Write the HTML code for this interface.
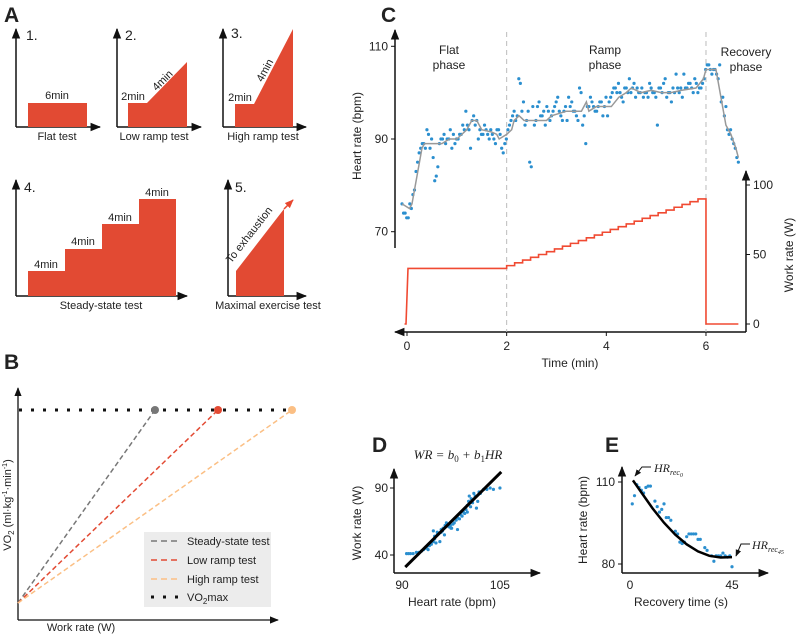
<!DOCTYPE html>
<html><head><meta charset="utf-8"><style>
body{margin:0;background:#fff;}
svg{display:block;font-family:"Liberation Sans",Arial,sans-serif;}
</style></head><body>
<svg id="fig" width="797" height="634" viewBox="0 0 797 634">
<defs>
<marker id="ar" viewBox="0 0 10 10" refX="9" refY="5" markerWidth="7" markerHeight="7" orient="auto-start-reverse"><path d="M0,1 L10,5 L0,9 z" fill="#111"/></marker>
<marker id="arr" viewBox="0 0 10 10" refX="9" refY="5" markerWidth="6" markerHeight="6" orient="auto"><path d="M0,1 L10,5 L0,9 z" fill="#e8472f"/></marker>
</defs>

<!-- Panel A -->
<g font-size="11" fill="#222">
<text x="4" y="22" font-size="21" font-weight="bold">A</text>
<g>
<line x1="16" y1="127" x2="16" y2="29" stroke="#111" stroke-width="1.5" marker-end="url(#ar)"/>
<line x1="16" y1="127" x2="100" y2="127" stroke="#111" stroke-width="1.5" marker-end="url(#ar)"/>
<rect x="28" y="103" width="59" height="24" fill="#e24a33"/>
<text x="26" y="40" font-size="14">1.</text>
<text x="57" y="99" text-anchor="middle">6min</text>
<text x="57" y="140" text-anchor="middle">Flat test</text></g>
<g>
<line x1="117" y1="127" x2="117" y2="29" stroke="#111" stroke-width="1.5" marker-end="url(#ar)"/>
<line x1="117" y1="127" x2="201" y2="127" stroke="#111" stroke-width="1.5" marker-end="url(#ar)"/>
<polygon points="128,127 128,103 147,103 187,62 187,127" fill="#e24a33"/>
<text x="125" y="40" font-size="14">2.</text>
<text x="133" y="100" text-anchor="middle">2min</text>
<text x="0" y="0" text-anchor="middle" transform="translate(165,83) rotate(-45)">4min</text>
<text x="154" y="140" text-anchor="middle">Low ramp test</text></g>
<g>
<line x1="223" y1="127" x2="223" y2="29" stroke="#111" stroke-width="1.5" marker-end="url(#ar)"/>
<line x1="223" y1="127" x2="306" y2="127" stroke="#111" stroke-width="1.5" marker-end="url(#ar)"/>
<polygon points="235,127 235,104 254,104 293,29 293,127" fill="#e24a33"/>
<text x="231" y="38" font-size="14">3.</text>
<text x="240" y="101" text-anchor="middle">2min</text>
<text x="0" y="0" text-anchor="middle" transform="translate(268,72) rotate(-62)">4min</text>
<text x="263" y="140" text-anchor="middle">High ramp test</text></g>
<g>
<line x1="16" y1="296" x2="16" y2="180" stroke="#111" stroke-width="1.5" marker-end="url(#ar)"/>
<line x1="16" y1="296" x2="187" y2="296" stroke="#111" stroke-width="1.5" marker-end="url(#ar)"/>
<polygon points="28,296 28,271 65,271 65,249 102,249 102,224 139,224 139,199 176,199 176,296" fill="#e24a33"/>
<text x="24" y="192" font-size="14">4.</text>
<text x="46" y="268" text-anchor="middle">4min</text>
<text x="83" y="245" text-anchor="middle">4min</text>
<text x="120" y="221" text-anchor="middle">4min</text>
<text x="157" y="196" text-anchor="middle">4min</text>
<text x="101" y="309" text-anchor="middle">Steady-state test</text></g>
<g>
<line x1="228" y1="296" x2="228" y2="180" stroke="#111" stroke-width="1.5" marker-end="url(#ar)"/>
<line x1="228" y1="296" x2="306" y2="296" stroke="#111" stroke-width="1.5" marker-end="url(#ar)"/>
<polygon points="236,296 236,271 284,209 284,296" fill="#e24a33"/>
<line x1="284" y1="209" x2="293" y2="200" stroke="#e8472f" stroke-width="1.5" marker-end="url(#arr)"/>
<text x="235" y="192" font-size="14">5.</text>
<text x="0" y="0" text-anchor="middle" transform="translate(252,237) rotate(-52)">To exhaustion</text>
<text x="268" y="309" text-anchor="middle">Maximal exercise test</text></g>
</g>

<!-- Panel B -->
<g font-size="11" fill="#222">
<text x="4" y="369" font-size="21" font-weight="bold">B</text>
<line x1="18" y1="620" x2="18" y2="388" stroke="#111" stroke-width="1.3" marker-end="url(#ar)"/>
<line x1="18" y1="620" x2="278" y2="620" stroke="#111" stroke-width="1.3" marker-end="url(#ar)"/>
<line x1="19" y1="410" x2="292" y2="410" stroke="#111" stroke-width="3" stroke-dasharray="3,9"/>
<line x1="18" y1="603" x2="155" y2="410" stroke="#777" stroke-width="1.5" stroke-dasharray="5,3"/>
<line x1="18" y1="603" x2="218" y2="410" stroke="#e24a33" stroke-width="1.5" stroke-dasharray="5,3"/>
<line x1="18" y1="603" x2="292" y2="410" stroke="#fbbf84" stroke-width="1.5" stroke-dasharray="5,3"/>
<circle cx="155" cy="410" r="4" fill="#777"/><circle cx="218" cy="410" r="4" fill="#e24a33"/><circle cx="292" cy="410" r="4" fill="#fbbf84"/>
<g>
<rect x="144" y="532" width="127" height="75" fill="#ececec"/>
<line x1="151" y1="541" x2="180" y2="541" stroke="#777" stroke-width="1.5" stroke-dasharray="6,4"/><text x="187" y="545">Steady-state test</text>
<line x1="151" y1="560" x2="180" y2="560" stroke="#e24a33" stroke-width="1.5" stroke-dasharray="6,4"/><text x="187" y="564">Low ramp test</text>
<line x1="151" y1="579" x2="180" y2="579" stroke="#fbbf84" stroke-width="1.5" stroke-dasharray="6,4"/><text x="187" y="583">High ramp test</text>
<line x1="151" y1="597" x2="180" y2="597" stroke="#111" stroke-width="3" stroke-dasharray="3,9"/><text x="187" y="601">VO<tspan font-size="8" dy="3">2</tspan><tspan dy="-3">max</tspan></text>
</g>
<text x="0" y="0" text-anchor="middle" transform="translate(11,505) rotate(-90)">VO<tspan font-size="8" dy="3">2</tspan><tspan dy="-3"> (ml·kg</tspan><tspan font-size="7" dy="-4">-1</tspan><tspan dy="4">·min</tspan><tspan font-size="7" dy="-4">-1</tspan><tspan dy="4">)</tspan></text>
<text x="81" y="631" text-anchor="middle">Work rate (W)</text>
</g>

<!-- Panel C -->
<g id="pc" font-size="12" fill="#222">
<text x="381" y="22" font-size="21" font-weight="bold">C</text>
</g>
<!-- Panel D -->
<g id="pd" font-size="12" fill="#222">
<text x="372" y="452" font-size="21" font-weight="bold">D</text>
<text x="458" y="459" text-anchor="middle" font-family="Liberation Serif,serif" font-style="italic" font-size="13">WR = b<tspan font-size="9" dy="3" font-style="normal">0</tspan><tspan dy="-3"> + b</tspan><tspan font-size="9" dy="3" font-style="normal">1</tspan><tspan dy="-3">HR</tspan></text>
</g>
<!-- Panel E -->
<g id="pe" font-size="12" fill="#222">
<text x="605" y="452" font-size="21" font-weight="bold">E</text>
</g>
</svg>
<script>
// ---- Panel C data ----
const hrStartA=-0.1, hrStartB=-0.06875, hrStep=0.0625;
const hrA=[76,74,73,75,79,85,88,89,92, 88,86,82,89,90,89,90,88, 89,90,91,92,93,88,95,94, 92,91,92,90,91,89,92,88, 89,92,94,96,95,102,98,94, 85,97,94,98,95,93,96,95, 97,99,95,96,94,97,96,95, 101,93,89,97,98,96,97,98, 97,95,99,101,100,100,98,101, 103,101,99,100,101,100,99,101, 100,93,101,102,99,100,101,104, 100,99,101,102,101,103,100,101, 103,106,105,105,104,106,99,97, 91,90,88,85];
const hrB=[74,73,76,78,83,87,89,88,91, 90,81,84,90,91,90,92,91, 90,91,93,96,92,94,93,90, 91,93,91,92,90,92,91,87, 90,93,95,94,103,96,93,96, 84,93,97,95,96,97,94,96, 98,96,94,97,99,98,96,94, 100,95,97,99,97,96,98,95, 99,98,100,101,102,99,101,100, 100,102,101,100,99,100,102,100, 99,101,100,103,100,98,100,101, 101,104,101,102,100,102,101,102, 105,106,104,105,103,98,95,92, 92,89,86];
const lineT=[-0.1,0.05,0.1,0.2,0.3,0.35,0.7,0.85,1,1.1,1.2,1.3,1.4,1.5,1.7,1.8,1.85,2,2.1,2.15,2.25,2.35,2.5,2.8,2.9,3.2,3.5,3.6,3.65,3.8,4.1,4.25,4.4,4.5,4.7,4.9,5.1,5.3,5.5,5.8,5.95,6.0,6.2,6.3,6.4,6.5,6.6,6.65];
const lineHR=[76,75,76,82,88,89,89,90,90,91,92,94,94,92,91.5,91,90,91,92,94,95,94,94,94,95,96,96,98,96,97,97,99,100,101,100,100.5,100,100,100.5,101,103,105,105,99,93,91,88,86];
const wrSteps=[42,44,46,48,50,52,54,56,58,60,62,64,66,68,70,72,74,76,78,80,82,84,86,88,90];
const wrFlat=40, wrEnd=6.65;
const timeTicks=[0,2,4,6], hrTicks=[70,90,110], wrTicks=[0,50,100];
const phaseLines=[2,6];
// ---- Panel D data ----
const dHR=[90.7,91,91.3,91.7,92.2,92.6,93,93.3,93.6,93.8,94,94.2,94.5,94.8,95,95,95.2,95.4,95.6,95.8,96,96.2,96.3,96.5,96.6,96.8,97,97.2,97.4,97.6,97.8,98,98.3,98.5,98.8,99,99.2,99.4,99.6,99.8,100,100,100.2,100.3,100.5,100.6,100.8,101,101.2,101.4,101.6,101.8,102,102.5,103,103.5,104,105,94.8,95.4,96,97.5,98.5];
const dWR=[41,41,41,41,42,42,43,44,45,46,44,47,48,50,54,52,49,55,56,50,57,58,60,55,62,64,63,61,62,60,63,64,66,68,67,70,69,72,71,74,77,72,80,84,76,82,79,86,84,75,80,87,86,89,89,90,89,90,58,57,59,60,59];
const dFitHR=[90.5,105.2], dFitWR=[31,102];
const dXTicks=[90,105], dYTicks=[40,90];
// ---- Panel E data ----
const eT=[1,2,3,4,5,6,7,8,9,11,12,13,14,15,16,17,18,20,21,22,23,24,25,26,27,28,29,30,31,33,34,36,37,38,39,40,41,42,43,44,45];
const eHR=[102,105,109,108,107,106,108,108.5,108.5,103,101,99,100,102,97,97,96,92,91,88,87.5,88,90,91,91,91,91,89,89,86,85,83,81,83,83,83,84,83,82.5,83,79];
const eFitT=[1.3,5,10,15,20,25,30,35,40,45];
const eFitHR=[110.6,106.2,100.3,95.1,90.7,87.2,84.6,83.0,82.4,82.5];
const eXTicks=[0,45], eYTicks=[80,110];

const NS="http://www.w3.org/2000/svg";
function mk(parent,tag,attrs,txt){const e=document.createElementNS(NS,tag);for(const k in attrs)e.setAttribute(k,attrs[k]);if(txt!==undefined)e.textContent=txt;parent.appendChild(e);return e;}

// Panel C scales
const cx=t=>407+(t-0)*49.83;
const cy=h=>139-(h-90)*4.635;
const cw=w=>324-w*1.39;
const pc=document.getElementById('pc');
// axes
let ax=mk(pc,'line',{x1:395,y1:248,x2:395,y2:30,stroke:'#111','stroke-width':1.5,'marker-end':'url(#ar)'});


ax=mk(pc,'line',{x1:746,y1:332,x2:395,y2:332,stroke:'#111','stroke-width':1.5,'marker-end':'url(#ar)'});


ax=mk(pc,'line',{x1:746,y1:332,x2:746,y2:171,stroke:'#111','stroke-width':1.5,'marker-end':'url(#ar)'});


phaseLines.forEach(t=>{const l=mk(pc,'line',{x1:cx(t),y1:32,x2:cx(t),y2:332,stroke:'#bbb','stroke-width':1,'stroke-dasharray':'5,4'});

});
timeTicks.forEach(t=>{mk(pc,'line',{x1:cx(t),y1:332,x2:cx(t),y2:336,stroke:'#111'});
const tx=mk(pc,'text',{x:cx(t),y:350,'text-anchor':'middle'},String(t));

});
hrTicks.forEach(h=>{mk(pc,'line',{x1:391,y1:cy(h),x2:395,y2:cy(h),stroke:'#111'});
const tx=mk(pc,'text',{x:388,y:cy(h)+4,'text-anchor':'end'},String(h));

});
wrTicks.forEach(w=>{mk(pc,'line',{x1:746,y1:cw(w),x2:750,y2:cw(w),stroke:'#111'});
const tx=mk(pc,'text',{x:753,y:cw(w)+4},String(w));

});
let t1=mk(pc,'text',{x:570,y:367,'text-anchor':'middle'},'Time (min)');


t1=mk(pc,'text',{x:0,y:0,'text-anchor':'middle',transform:'translate(361,136) rotate(-90)'},'Heart rate (bpm)');


t1=mk(pc,'text',{x:0,y:0,'text-anchor':'middle',transform:'translate(793,255) rotate(-90)'},'Work rate (W)');


[['Flat',449,54],['phase',449,69],['Ramp',605,54],['phase',605,69],['Recovery',746,56],['phase',746,71]].forEach(a=>{const e=mk(pc,'text',{x:a[1],y:a[2],'text-anchor':'middle'},a[0]);

});
// work rate path
let d='M'+cx(-0.05)+','+cw(0)+' L'+cx(-0.02)+','+cw(0)+' L'+cx(0.02)+','+cw(wrFlat)+' L'+cx(2)+','+cw(wrFlat);
const sd=4/wrSteps.length;
wrSteps.forEach((w,i)=>{d+=' L'+cx(2+i*sd)+','+cw(w)+' L'+cx(2+(i+1)*sd)+','+cw(w);});
d+=' L'+cx(6)+','+cw(0)+' L'+cx(wrEnd)+','+cw(0);
const wp=mk(pc,'path',{d:d,fill:'none',stroke:'#f04a32','stroke-width':1.6});


// scatter
[[hrA,hrStartA],[hrB,hrStartB]].forEach(([arr,s])=>arr.forEach((h,i)=>{const c=mk(pc,'circle',{cx:cx(s+i*hrStep),cy:cy(h),r:1.6,fill:'#2b8fcf'});

}));
const lp=mk(pc,'polyline',{points:lineT.map((t,i)=>cx(t)+','+cy(lineHR[i])).join(' '),fill:'none',stroke:'#999','stroke-width':1.5});



// Panel D
const pd=document.getElementById('pd');
const dx=h=>402+(h-90)*6.53, dy=w=>555-(w-40)*1.34;
ax=mk(pd,'line',{x1:394,y1:573,x2:394,y2:469,stroke:'#111','stroke-width':1.5,'marker-end':'url(#ar)'});


ax=mk(pd,'line',{x1:394,y1:573,x2:540,y2:573,stroke:'#111','stroke-width':1.5,'marker-end':'url(#ar)'});


dXTicks.forEach(v=>{const e=mk(pd,'text',{x:dx(v),y:589,'text-anchor':'middle'},String(v));

});
dYTicks.forEach(v=>{mk(pd,'line',{x1:390,y1:dy(v),x2:394,y2:dy(v),stroke:'#111'});
const e=mk(pd,'text',{x:388,y:dy(v)+4,'text-anchor':'end'},String(v));

});
t1=mk(pd,'text',{x:452,y:606,'text-anchor':'middle'},'Heart rate (bpm)');


t1=mk(pd,'text',{x:0,y:0,'text-anchor':'middle',transform:'translate(361,523) rotate(-90)'},'Work rate (W)');


dHR.forEach((h,i)=>{const c=mk(pd,'circle',{cx:dx(h),cy:dy(dWR[i]),r:1.6,fill:'#2b8fcf'});

});
const fl=mk(pd,'line',{x1:dx(dFitHR[0]),y1:dy(dFitWR[0]),x2:dx(dFitHR[1]),y2:dy(dFitWR[1]),stroke:'#000','stroke-width':3});



// Panel E
const pe=document.getElementById('pe');
const ex=t=>630+t*2.267, ey=h=>564-(h-80)*2.733;
ax=mk(pe,'line',{x1:622,y1:573,x2:622,y2:467,stroke:'#111','stroke-width':1.5,'marker-end':'url(#ar)'});


ax=mk(pe,'line',{x1:622,y1:573,x2:768,y2:573,stroke:'#111','stroke-width':1.5,'marker-end':'url(#ar)'});


eXTicks.forEach(v=>{const e=mk(pe,'text',{x:ex(v),y:589,'text-anchor':'middle'},String(v));

});
eYTicks.forEach(v=>{mk(pe,'line',{x1:618,y1:ey(v),x2:622,y2:ey(v),stroke:'#111'});
const e=mk(pe,'text',{x:615,y:ey(v)+4,'text-anchor':'end'},String(v));

});
t1=mk(pe,'text',{x:681,y:606,'text-anchor':'middle'},'Recovery time (s)');


t1=mk(pe,'text',{x:0,y:0,'text-anchor':'middle',transform:'translate(587,520) rotate(-90)'},'Heart rate (bpm)');


eT.forEach((t,i)=>{const c=mk(pe,'circle',{cx:ex(t),cy:ey(eHR[i]),r:1.6,fill:'#2b8fcf'});

});
const ef=mk(pe,'polyline',{points:eFitT.map((t,i)=>ex(t)+','+ey(eFitHR[i])).join(' '),fill:'none',stroke:'#000','stroke-width':2.5});


const an1=mk(pe,'path',{d:'M651,467 L642,467 L635,476',fill:'none',stroke:'#111','stroke-width':1,'marker-end':'url(#ar)'});


const an2=mk(pe,'path',{d:'M750,544 L741,544 L736,556',fill:'none',stroke:'#111','stroke-width':1,'marker-end':'url(#ar)'});


const l1=mk(pe,'text',{x:654,y:472,'font-family':'Liberation Serif,serif','font-style':'italic','font-size':12});
l1.innerHTML='HR<tspan font-size="8" dy="3">rec</tspan><tspan font-size="6" dy="2">0</tspan>';


const l2=mk(pe,'text',{x:752,y:549,'font-family':'Liberation Serif,serif','font-style':'italic','font-size':12});
l2.innerHTML='HR<tspan font-size="8" dy="3">rec</tspan><tspan font-size="6" dy="2">45</tspan>';


</script>
</body></html>
